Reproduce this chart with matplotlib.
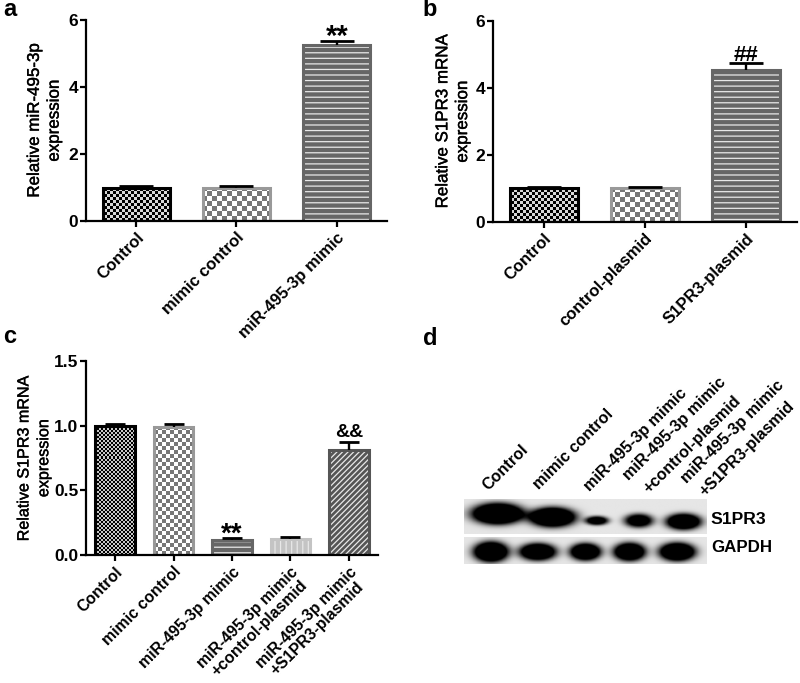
#!/usr/bin/env python3
"""Bar panels a-c and western blot panel d."""

import numpy as np
import matplotlib
matplotlib.use("Agg")
import matplotlib.pyplot as plt
import matplotlib.patheffects as pe
from matplotlib.colors import ListedColormap
from matplotlib.transforms import ScaledTranslation

plt.rcParams["font.family"] = ["Liberation Sans", "DejaVu Sans"]
plt.rcParams["font.weight"] = "bold"
plt.rcParams["hatch.linewidth"] = 0.9

W, H = 800, 683

# ── data ──
labels_a = ["Control", "mimic control", "miR-495-3p mimic"]
values_a = [1.0, 1.0, 5.25]
errors_a = [0.03, 0.03, 0.12]

labels_b = ["Control", "control-plasmid", "S1PR3-plasmid"]
values_b = [1.0, 1.0, 4.55]
errors_b = [0.03, 0.03, 0.2]

labels_c = ["Control", "mimic control", "miR-495-3p mimic",
            "miR-495-3p mimic\n+control-plasmid",
            "miR-495-3p mimic\n+S1PR3-plasmid"]
values_c = [1.0, 0.99, 0.115, 0.12, 0.81]
errors_c = [0.012, 0.02, 0.02, 0.02, 0.065]

# blot bands: lane centre, half width, y centre, half height, darkness
s1pr3_bands = [(0.138, 0.105, 0.42, 0.30, 2.0), (0.364, 0.095, 0.52, 0.28, 1.9), (0.547, 0.048, 0.62, 0.13, 1.3),
               (0.72, 0.06, 0.62, 0.20, 1.3), (0.905, 0.072, 0.65, 0.23, 1.7)]
gapdh_bands = [(0.11, 0.072, 0.55, 0.38, 1.8), (0.303, 0.076, 0.55, 0.32, 1.7), (0.50, 0.064, 0.55, 0.32, 1.7),
               (0.682, 0.066, 0.55, 0.34, 1.7), (0.879, 0.074, 0.55, 0.34, 1.8)]


def px_axes(left, top, right, bottom):
    return fig.add_axes([left / W, 1 - bottom / H, (right - left) / W, (bottom - top) / H])


def checker_bar(ax, x, val, width, dark, light, edge, cell_px, xlim, ylim):
    # checkerboard fill, clipped to the bar; cell size given in pixels
    base = ax.bar(x, val, width, color=light, linewidth=0, zorder=1)[0]
    nx, ny = 60, 80
    grid = np.indices((ny, nx)).sum(axis=0) % 2
    ext_w = nx * cell_px * (xlim[1] - xlim[0]) / ax.bbox.width
    ext_h = ny * cell_px * (ylim[1] - ylim[0]) / ax.bbox.height
    im = ax.imshow(grid, cmap=ListedColormap([dark, light]), aspect="auto",
                   extent=(x - ext_w / 2, x + ext_w / 2, 0, ext_h), interpolation="nearest", zorder=1.5)
    im.set_clip_path(base)
    ax.bar(x, val, width, fill=False, edgecolor=edge, linewidth=2.2, zorder=2)


def hatch_bar(ax, x, val, width, face, hatch, edge=None):
    ax.bar(x, val, width, color=face, edgecolor="#e8e8e8", hatch=hatch, linewidth=0, zorder=1.5)
    ax.bar(x, val, width, fill=False, edgecolor=edge or face, linewidth=2.2, zorder=2)


def error_caps(ax, xs, vals, errs, cap):
    _, caps, _ = ax.errorbar(xs, vals, yerr=[[0] * len(xs), errs], fmt="none", ecolor="black",
                             elinewidth=1.7, capsize=cap, capthick=2, zorder=3)
    caps[0].set_visible(False)


def style_axes(ax, xs, labels, xlim, ylim, yticks, yfmt, ylabel, labelpad, tick_size=12, label_size=12.2):
    ax.set_xlim(*xlim)
    ax.set_ylim(*ylim)
    for side in ("top", "right"):
        ax.spines[side].set_visible(False)
    for side in ("left", "bottom"):
        ax.spines[side].set_linewidth(1.6)
    ax.set_yticks(yticks)
    ax.set_yticklabels([yfmt % t for t in yticks], fontsize=12.5)
    ax.set_xticks(xs)
    ax.set_xticklabels(labels, rotation=45, ha="right", rotation_mode="anchor",
                       fontsize=tick_size, linespacing=1.1, ma="center")
    shift = ScaledTranslation(-0.08, 0, fig.dpi_scale_trans)
    for t in ax.get_xticklabels():
        t.set_transform(t.get_transform() + shift)
    ax.tick_params(width=1.6, length=4.5, pad=2)
    ax.tick_params(axis="y", pad=1)
    lab = ax.set_ylabel(ylabel, fontsize=label_size, fontweight="normal", linespacing=1.4, labelpad=labelpad)
    lab.set_path_effects([pe.withStroke(linewidth=0.3, foreground="black")])


fig = plt.figure(figsize=(W / 100, H / 100), dpi=100, facecolor="white")

# ── panel a ──
ax = px_axes(86, 20, 387, 221)
xs = np.arange(3)
xlim = (-0.5, 2.5)
ylim = (0, 6)
checker_bar(ax, 0, values_a[0], 0.67, "black", "#d8d8d8", "black", 3, xlim, ylim)
checker_bar(ax, 1, values_a[1], 0.67, "#777777", "white", "#999999", 5, xlim, ylim)
hatch_bar(ax, 2, values_a[2], 0.67, "#666666", "---")
error_caps(ax, xs, values_a, errors_a, 12)
style_axes(ax, xs, labels_a, xlim, ylim, [0, 2, 4, 6], "%d",
           "Relative miR-495-3p\nexpression", 5)
ax.text(2, values_a[2] + errors_a[2] - 0.3, "**", ha="center", va="bottom", fontsize=21)

# ── panel b ──
ax = px_axes(493, 21, 797, 222)
checker_bar(ax, 0, values_b[0], 0.67, "black", "#d8d8d8", "black", 3, xlim, ylim)
checker_bar(ax, 1, values_b[1], 0.67, "#777777", "white", "#999999", 5, xlim, ylim)
hatch_bar(ax, 2, values_b[2], 0.67, "#666666", "---")
error_caps(ax, xs, values_b, errors_b, 12)
style_axes(ax, xs, labels_b, xlim, ylim, [0, 2, 4, 6], "%d",
           "Relative S1PR3 mRNA\nexpression", 4)
ax.text(2, values_b[2] + errors_b[2] - 0.08, "##", ha="center", va="bottom", fontsize=16)

# ── panel c ──
ax = px_axes(86, 361, 378, 555)
xs = np.arange(5)
xlim = (-0.5, 4.5)
ylim = (0, 1.5)
checker_bar(ax, 0, values_c[0], 0.68, "black", "#c8c8c8", "black", 2, xlim, ylim)
checker_bar(ax, 1, values_c[1], 0.68, "#777777", "white", "#999999", 4, xlim, ylim)
hatch_bar(ax, 2, values_c[2], 0.68, "#666666", "---")
hatch_bar(ax, 3, values_c[3], 0.68, "#c4c4c4", "|||")
hatch_bar(ax, 4, values_c[4], 0.68, "#555555", "//////")
error_caps(ax, xs, values_c, errors_c, 7)
style_axes(ax, xs, labels_c, xlim, ylim, [0, 0.5, 1.0, 1.5], "%.1f",
           "Relative S1PR3 mRNA\nexpression", 2, tick_size=11.4, label_size=11.6)
ax.text(2, values_c[2] + errors_c[2] - 0.08, "**", ha="center", va="bottom", fontsize=20)
ax.text(4, values_c[4] + errors_c[4] + 0.005, "&&", ha="center", va="bottom", fontsize=14)


# ── panel d ──
def blot(bands, nrows=60, ncols=300):
    yy, xx = np.mgrid[0:1:nrows * 1j, 0:1:ncols * 1j]
    dens = np.zeros_like(xx)
    for cx, hw, cy, hh, d in bands:
        r2 = ((xx - cx) / hw) ** 2 + ((yy - cy) / hh) ** 2
        dens += d * np.exp(-r2 ** 1.5)
    return np.clip(0.9 - dens, 0, 1)


for bands, top, bottom in [(s1pr3_bands, 499, 534), (gapdh_bands, 537, 564)]:
    ax = px_axes(464, top, 706, bottom)
    ax.imshow(blot(bands), cmap="gray", vmin=0, vmax=1, aspect="auto", interpolation="bilinear")
    ax.axis("off")

fig.text(710 / W, 1 - 520 / H, "S1PR3", fontsize=12.6, va="center")
fig.text(711 / W, 1 - 548 / H, "GAPDH", fontsize=12.2, va="center")

# lane labels above the blot, one text per line so the last block stays on the page
lane_lines = [s for lab in labels_c for s in lab.split("\n")]
lane_x = [506, 573, 635.5, 675, 692.5, 733, 747]
lane_y = [467, 449, 440, 429, 445, 432, 449]
for x, y, lab in zip(lane_x, lane_y, lane_lines):
    fig.text(x / W, 1 - y / H, lab, rotation=45, ha="center", va="center", rotation_mode="anchor",
             fontsize=11.6)

# ── panel letters ──
for letter, x, y in [("a", 3, 10), ("b", 422, 10), ("c", 3, 337), ("d", 423, 338)]:
    fig.text(x / W, 1 - y / H, letter, fontsize=17, va="center", ha="left")

fig.savefig("out.png", dpi=100, facecolor="white")
